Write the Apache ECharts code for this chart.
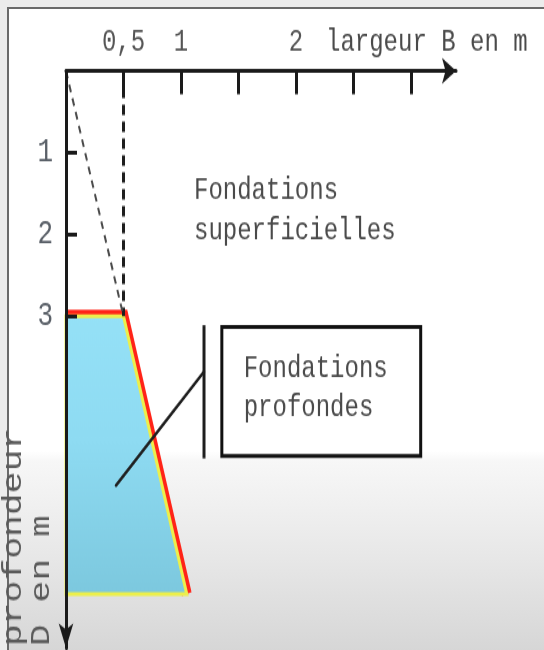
<!DOCTYPE html>
<html><head><meta charset="utf-8">
<script src="https://cdn.jsdelivr.net/npm/echarts@6/dist/echarts.min.js"></script>
<style>
html,body{margin:0;padding:0;width:544px;height:650px;overflow:hidden;background:#ececec;}
#frame{position:absolute;left:7px;top:7px;width:537px;height:643px;border-left:2px solid #6a6a6a;border-top:2px solid #6a6a6a;
background:linear-gradient(to bottom,#ffffff 0px,#ffffff 442px,#f7f7f7 452px,#e7e7e7 550px,#d6d6d6 643px);}
#chart{position:absolute;left:0;top:0;width:544px;height:500px;transform:scaleY(1.3);transform-origin:0 0;}
</style></head><body><div id="frame"></div><div id="chart"></div>
<script>
// ---- data (B = largeur en m, D = profondeur en m) ----
const xTickValues = [0.5, 1, 1.5, 2, 2.5, 3];
const xTickLabels = [0.5, 1, 2];
const yTickValues = [1, 2, 3];
const xAxisTitle = 'largeur B en m';
const yAxisTitle = 'profondeur\nD en m';
const deepB = [0, 0.5, 1.05, 0];
const deepD = [3, 3, 6.4, 6.4];
const limitB = [0.5, 0.5];
const limitD = [0, 3];
const slopeB = [0, 0.5];
const slopeD = [0, 3];
const pointerB = [1.2, 0.435];
const pointerD = [3.68, 5.07];
const bracketB = [1.2, 1.2];
const bracketD = [3.11, 4.74];
const boxB = [1.355, 3.084];
const boxD = [3.13, 4.71];
const shallowText = 'Fondations\nsuperficielles';
const shallowAt = [1.113, 1.71];
const deepText = 'Fondations\nprofondes';
const deepAt = [1.545, 3.88];

const MONO = "'Liberation Mono', 'Courier New', monospace";
const zip = (a, b) => a.map((v, i) => [v, b[i]]);

const chart = echarts.init(document.getElementById('chart'), null, {renderer: 'canvas'});
chart.setOption({
  backgroundColor: 'transparent',
  animation: false,
  grid: {left: 66, top: 54.6, right: 88, bottom: 1.5, containLabel: false},
  xAxis: {
    type: 'value', position: 'top', min: 0, max: 3.391, z: 3,
    axisLine: {onZero: false, lineStyle: {color: '#1a1a1a', width: 3}, symbol: ['none', 'arrow'], symbolSize: [15, 14]},
    axisTick: {show: true, inside: true, length: 18, customValues: xTickValues, lineStyle: {color: '#1a1a1a', width: 3}},
    axisLabel: {customValues: xTickLabels, margin: 10, color: '#555', fontFamily: MONO, fontSize: 24,
      formatter: v => String(v).replace('.', ',')},
    splitLine: {show: false}
  },
  yAxis: {
    type: 'value', inverse: true, min: 0, max: 7.06, z: 3,
    axisLine: {onZero: false, lineStyle: {color: '#1a1a1a', width: 3}, symbol: ['arrow', 'none'], symbolSize: [11, 19]},
    axisTick: {show: true, inside: true, length: 11, customValues: yTickValues, lineStyle: {color: '#1a1a1a', width: 3}},
    axisLabel: {customValues: yTickValues, margin: 13, color: '#5a6068', fontFamily: MONO, fontSize: 26, padding: [0, 0, 14, 0]},
    splitLine: {show: false}
  },
  graphic: [
    {type: 'text', x: 326, y: 32.8, z: 10,
      style: {text: xAxisTitle, font: '24px ' + MONO, fill: '#4a4a4a', align: 'left', verticalAlign: 'middle'}},
    {type: 'text', x: 0, y: 497, rotation: Math.PI / 2, z: 10,
      style: {text: yAxisTitle, font: '28px ' + MONO, fill: '#5a5a5a', align: 'left', verticalAlign: 'top', lineHeight: 28}}
  ],
  series: [
    { // deep foundation zone
      type: 'custom', z: 1, data: [[0, 0]], silent: true,
      renderItem: function (params, api) {
        const pts = zip(deepB, deepD).map(p => api.coord(p));
        return {type: 'group', children: [
          {type: 'polyline', shape: {points: [pts[0], pts[1], pts[2]]},
            style: {stroke: '#ff2418', lineWidth: 10, fill: null, lineJoin: 'miter', lineCap: 'butt'}},
          {type: 'polygon', shape: {points: pts},
            style: {fill: new echarts.graphic.LinearGradient(0, 0, 0, 1, [
              {offset: 0, color: '#95e1f7'}, {offset: 0.45, color: '#8edbf2'}, {offset: 1, color: '#7cc8de'}]),
              stroke: '#ecef4c', lineWidth: 3}}
        ]};
      }
    },
    { // vertical limit B = 0.5
      type: 'line', z: 2, data: zip(limitB, limitD), showSymbol: false, silent: true,
      lineStyle: {color: '#1e1e1e', width: 3, type: [8, 5]}
    },
    { // slope line
      type: 'line', z: 2, data: zip(slopeB, slopeD), showSymbol: false, silent: true,
      lineStyle: {color: '#4a4a4a', width: 2, type: [6, 5]}
    },
    { // pointer
      type: 'line', z: 4, data: zip(pointerB, pointerD), showSymbol: false, silent: true,
      lineStyle: {color: '#1e1e1e', width: 2.5, cap: 'round'}
    },
    { // bracket
      type: 'line', z: 4, data: zip(bracketB, bracketD), showSymbol: false, silent: true,
      lineStyle: {color: '#1e1e1e', width: 3}
    },
    { // box + labels
      type: 'custom', z: 5, data: [[0, 0]], silent: true,
      renderItem: function (params, api) {
        const p0 = api.coord([boxB[0], boxD[0]]);
        const p1 = api.coord([boxB[1], boxD[1]]);
        const s = api.coord(shallowAt);
        const d = api.coord(deepAt);
        return {type: 'group', children: [
          {type: 'rect', shape: {x: p0[0], y: p0[1], width: p1[0] - p0[0], height: p1[1] - p0[1]},
            style: {fill: '#fff', stroke: '#111', lineWidth: 3}},
          {type: 'text', x: s[0], y: s[1],
            style: {text: shallowText, font: '24px ' + MONO, fill: '#4a4a4a', align: 'left', verticalAlign: 'middle', lineHeight: 30.8}},
          {type: 'text', x: d[0], y: d[1],
            style: {text: deepText, font: '24px ' + MONO, fill: '#4a4a4a', align: 'left', verticalAlign: 'middle', lineHeight: 29.7}}
        ]};
      }
    }
  ]
});
</script></body></html>
